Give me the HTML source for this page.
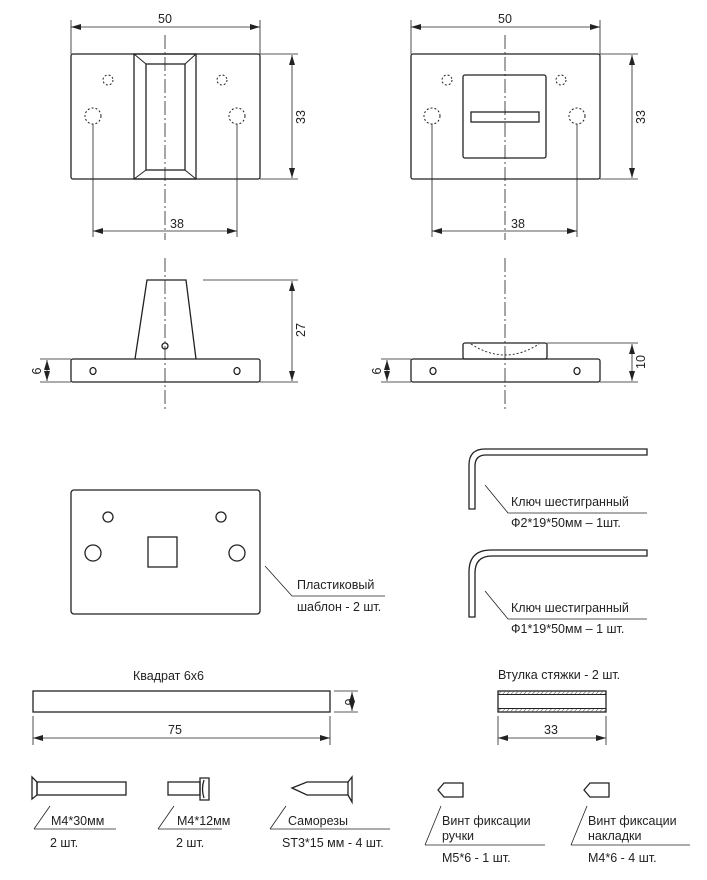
<!DOCTYPE html>
<html><head><meta charset="utf-8"><style>
html,body{margin:0;padding:0;background:#fff;}
svg{display:block;}
text{font-family:"Liberation Sans",sans-serif;fill:#222;}
.n{font-family:"DejaVu Sans","Liberation Sans",sans-serif;font-size:12.5px;}
</style></head><body>
<svg width="707" height="880" viewBox="0 0 707 880" xmlns="http://www.w3.org/2000/svg">
<defs>
<marker id="a" viewBox="0 0 10 6" refX="10" refY="3" markerWidth="10" markerHeight="6" orient="auto-start-reverse" markerUnits="userSpaceOnUse"><path d="M0,0L10,3L0,6z" fill="#222"/></marker>
<pattern id="h" width="3" height="3" patternUnits="userSpaceOnUse" patternTransform="rotate(45)"><line x1="0" y1="0" x2="0" y2="3" stroke="#444" stroke-width="1"/></pattern>
</defs>
<g fill="none" stroke="#222" stroke-width="1.3">
<!-- top-left plate -->
<rect x="71" y="54" width="189" height="125" rx="2"/>
<rect x="134" y="54" width="62" height="125"/>
<rect x="146" y="64" width="39" height="106"/>
<path d="M134,54L146,64M196,54L185,64M134,179L146,170M196,179L185,170" stroke-width="1"/>
<g stroke-dasharray="2,2" stroke-width="1"><circle cx="108" cy="80" r="5"/><circle cx="222" cy="80" r="5"/><circle cx="93" cy="116" r="8"/><circle cx="237" cy="116" r="8"/></g>
<!-- top-right plate -->
<rect x="411" y="54" width="189" height="125" rx="2"/>
<rect x="463" y="75" width="83" height="83" rx="2"/>
<rect x="471" y="112" width="68" height="10"/>
<g stroke-dasharray="2,2" stroke-width="1"><circle cx="447" cy="80" r="5"/><circle cx="561" cy="80" r="5"/><circle cx="432" cy="116" r="8"/><circle cx="577" cy="116" r="8"/></g>
</g>
<g stroke="#222" stroke-width="0.8" fill="none">
<!-- centerlines -->
<path d="M165,35V240M165,258V410M505,35V240M505,258V410" stroke-dasharray="14,3,2,3"/>
<!-- dims top-left -->
<path d="M71,20V54M260,20V54M260,54H298M260,179H298M93,124V237M237,124V237"/>
<line x1="71" y1="27" x2="260" y2="27" marker-start="url(#a)" marker-end="url(#a)"/>
<line x1="292" y1="55" x2="292" y2="178" marker-start="url(#a)" marker-end="url(#a)"/>
<line x1="93" y1="231" x2="237" y2="231" marker-start="url(#a)" marker-end="url(#a)"/>
<!-- dims top-right -->
<path d="M411,20V54M600,20V54M600,54H638M600,179H638M432,124V237M577,124V237"/>
<line x1="411" y1="27" x2="600" y2="27" marker-start="url(#a)" marker-end="url(#a)"/>
<line x1="632" y1="55" x2="632" y2="178" marker-start="url(#a)" marker-end="url(#a)"/>
<line x1="432" y1="231" x2="577" y2="231" marker-start="url(#a)" marker-end="url(#a)"/>
<!-- side left dims -->
<path d="M203,280H298M260,382H298M40,359H71M40,382H71"/>
<line x1="292" y1="281" x2="292" y2="381" marker-start="url(#a)" marker-end="url(#a)"/>
<line x1="47" y1="360" x2="47" y2="381" marker-start="url(#a)" marker-end="url(#a)"/>
<!-- side right dims -->
<path d="M547,343H638M600,382H638M381,359H411M381,382H411"/>
<line x1="632" y1="344" x2="632" y2="381" marker-start="url(#a)" marker-end="url(#a)"/>
<line x1="387" y1="360" x2="387" y2="381" marker-start="url(#a)" marker-end="url(#a)"/>
</g>
<g fill="none" stroke="#222" stroke-width="1.3">
<!-- side left -->
<rect x="71" y="359" width="189" height="23" rx="2"/>
<path d="M135,359L147,280H186L196,359"/>
<ellipse cx="93" cy="371" rx="3" ry="3.5"/><ellipse cx="237" cy="371" rx="3" ry="3.5"/>
<circle cx="165" cy="346" r="3"/>
<!-- side right -->
<rect x="411" y="359" width="189" height="23" rx="2"/>
<rect x="463" y="343" width="84" height="16" rx="2"/>
<path d="M471,344Q505,366 539,344" stroke-dasharray="2,2" stroke-width="0.9"/>
<ellipse cx="433" cy="371" rx="3" ry="3.5"/><ellipse cx="577" cy="371" rx="3" ry="3.5"/>
<!-- template -->
<rect x="71" y="490" width="189" height="124" rx="3"/>
<circle cx="108" cy="517" r="5"/><circle cx="221" cy="517" r="5"/>
<circle cx="93" cy="553" r="8"/><circle cx="237" cy="553" r="8"/>
<rect x="148" y="537" width="29" height="30"/>
<!-- keys -->
<path d="M469,509V465Q469,449 485,449H647V455H486Q475,455 475,466V509Z"/>
<path d="M469,617V572Q469,550 491,550H647V556H492Q475,556 475,573V617Z"/>
<!-- square bar -->
<rect x="33" y="691" width="297" height="21"/>
<!-- tube -->
<rect x="498" y="691" width="108" height="21"/>
</g>
<rect x="498.7" y="691.7" width="106.6" height="2.6" fill="url(#h)"/>
<rect x="498.7" y="708.7" width="106.6" height="2.6" fill="url(#h)"/>
<path d="M498,694.5H606M498,708.5H606" stroke="#222" stroke-width="1"/>
<g stroke="#222" stroke-width="0.8" fill="none">
<path d="M265,566L292,596H385M485,485L508,513H647M485,591L508,619H647"/>
<path d="M334,691H358M334,712H358M33,716V745M330,716V745M498,716V745M606,716V745"/>
<line x1="352" y1="692" x2="352" y2="711" marker-start="url(#a)" marker-end="url(#a)"/>
<line x1="33" y1="738" x2="330" y2="738" marker-start="url(#a)" marker-end="url(#a)"/>
<line x1="498" y1="738" x2="606" y2="738" marker-start="url(#a)" marker-end="url(#a)"/>
<!-- bottom leaders -->
<path d="M34,829L50,806M34,829H116M158,829L174,806M158,829H222M270,829L286,806M270,829H390M425,845L441,806M425,845H545M571,845L587,806M571,845H690"/>
</g>
<g fill="none" stroke="#222" stroke-width="1.3">
<!-- screws -->
<path d="M32,777V799L37,795V782Z"/><rect x="37" y="782" width="89" height="13"/>
<rect x="168" y="782" width="32" height="13"/><path d="M200,778H209V800H200ZM204,780Q201,789 204,798"/>
<path d="M292,788L307,782H348V795H307Z"/><path d="M348,782L352,777V802L348,795"/>
<path d="M438,790L444,783H463V797H444Z"/>
<path d="M584,790L590,783H609V797H590Z"/>
</g>
<g class="n" text-anchor="middle">
<text x="165" y="23">50</text><text x="505" y="23">50</text>
<text x="177" y="228">38</text><text x="518" y="228">38</text>
<text x="175" y="734">75</text><text x="551" y="734">33</text>
<text transform="translate(305,117) rotate(-90)">33</text>
<text transform="translate(645,117) rotate(-90)">33</text>
<text transform="translate(305,330) rotate(-90)">27</text>
<text transform="translate(645,362) rotate(-90)">10</text>
<text transform="translate(41,371) rotate(-90)">6</text>
<text transform="translate(381,371) rotate(-90)">6</text>
<text transform="translate(345,702) rotate(90)">6</text>
</g>
<g font-size="12.5">
<text x="297" y="589">Пластиковый</text>
<text x="297" y="611">шаблон - 2 шт.</text>
<text x="511" y="506">Ключ шестигранный</text>
<text x="511" y="527">Ф2*19*50мм – 1шт.</text>
<text x="511" y="612">Ключ шестигранный</text>
<text x="511" y="633">Ф1*19*50мм – 1 шт.</text>
<text x="133" y="680">Квадрат 6х6</text>
<text x="498" y="679">Втулка стяжки - 2 шт.</text>
<text x="51" y="825">M4*30мм</text><text x="50" y="847">2 шт.</text>
<text x="177" y="825">M4*12мм</text><text x="176" y="847">2 шт.</text>
<text x="288" y="825">Саморезы</text><text x="282" y="847">ST3*15 мм - 4 шт.</text>
<text x="442" y="825">Винт фиксации</text><text x="442" y="840">ручки</text><text x="442" y="862">M5*6 - 1 шт.</text>
<text x="588" y="825">Винт фиксации</text><text x="588" y="840">накладки</text><text x="588" y="862">M4*6 - 4 шт.</text>
</g>
</svg>
</body></html>
